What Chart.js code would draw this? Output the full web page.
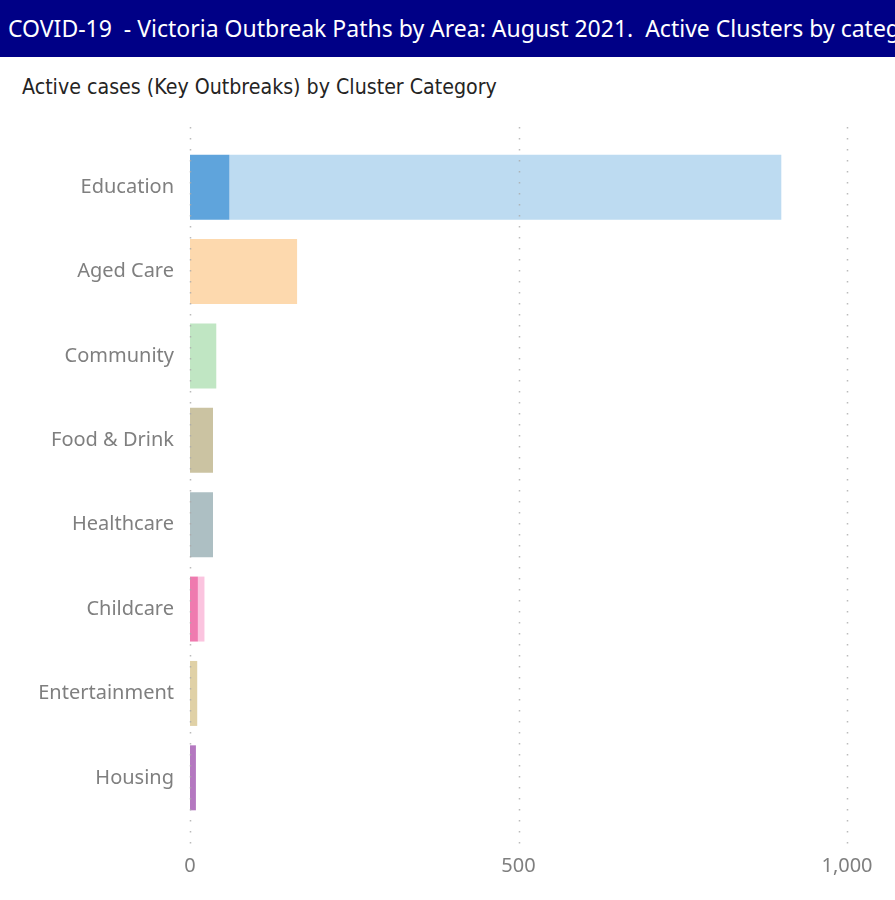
<!DOCTYPE html>
<html>
<head>
<meta charset="utf-8">
<script src="https://cdn.jsdelivr.net/npm/chart.js@4.4.0/dist/chart.umd.min.js"></script>
<style>
  body { margin: 0; background: #fff; width: 895px; height: 900px; overflow: hidden; position: relative; }
  .header {
    position: absolute; left: 0; top: 0; width: 895px; height: 57px;
    background: #000086; color: #fff; white-space: pre; overflow: hidden;
    font-family: 'Noto Sans', sans-serif; font-size: 23px; line-height: 57px;
    padding-left: 8px; box-sizing: border-box;
  }
  .subtitle {
    position: absolute; left: 22px; top: 74px; color: #252423;
    font-family: 'DejaVu Sans Condensed', 'DejaVu Sans', sans-serif; font-size: 21.2px;
  }
  .wrap { position: absolute; left: 0; top: 110px; width: 895px; height: 790px; }
</style>
</head>
<body>
<div class="header">COVID-19  - Victoria Outbreak Paths by Area: August 2021.  Active Clusters by category</div>
<div class="subtitle">Active cases (Key Outbreaks) by Cluster Category</div>
<div class="wrap"><canvas id="chart"></canvas></div>
<script>
document.addEventListener('DOMContentLoaded', () => {
    // --- Data ---
    const categories = ['Education', 'Aged Care', 'Community', 'Food & Drink', 'Healthcare', 'Childcare', 'Entertainment', 'Housing'];
    const darkValues = [60, 0, 0, 0, 0, 12, 0, 9];
    const lightValues = [840, 163, 40, 35, 35, 10, 11, 0];
    const xTicks = [0, 500, 1000];

    const darkColors = ['#5fa4dc', '#f9c48a', '#8fd197', '#a89c70', '#879ea3', '#ef7aaf', '#c9b67a', '#b478c0'];
    const lightColors = ['#bddbf1', '#fdd9ae', '#c0e6c3', '#cbc3a2', '#adbfc3', '#fbc4df', '#e0d1a6', '#d6b4dd'];

    // dotted gridlines that run past the plot area like the original
    const dottedGrid = {
        id: 'dottedGrid',
        afterDatasetsDraw(chart) {
            const { ctx, chartArea, scales } = chart;
            ctx.save();
            ctx.strokeStyle = 'rgba(170,170,170,0.8)';
            ctx.lineWidth = 1.5;
            ctx.setLineDash([1.5, 9.5]);
            xTicks.forEach(t => {
                const x = Math.round(scales.x.getPixelForValue(t)) + 0.5;
                ctx.beginPath();
                ctx.moveTo(x, chartArea.top - 18);
                ctx.lineTo(x, chartArea.bottom + 25);
                ctx.stroke();
            });
            ctx.restore();
        }
    };

    const ctx = document.getElementById('chart').getContext('2d');
    new Chart(ctx, {
        type: 'bar',
        data: {
            labels: categories,
            datasets: [
                { label: 'dark', data: darkValues, backgroundColor: darkColors, borderWidth: 0 },
                { label: 'light', data: lightValues, backgroundColor: lightColors, borderWidth: 0 }
            ]
        },
        options: {
            indexAxis: 'y',
            responsive: true,
            maintainAspectRatio: false,
            animation: false,
            layout: { padding: { top: 35, right: 48, left: 0, bottom: 0 } },
            datasets: { bar: { barPercentage: 0.77, categoryPercentage: 1 } },
            plugins: {
                legend: { display: false },
                tooltip: { enabled: false }
            },
            scales: {
                x: {
                    stacked: true,
                    min: 0,
                    max: 1000,
                    afterBuildTicks: scale => { scale.ticks = xTicks.map(v => ({ value: v })); },
                    afterFit: scale => {
                        scale.height = 80;
                        scale.paddingLeft = 0;
                        scale.paddingRight = 0;
                    },
                    border: { display: false },
                    grid: { display: false, drawTicks: false },
                    ticks: {
                        padding: 34,
                        color: '#7f7f7f',
                        font: { family: "'Noto Sans', sans-serif", size: 20 },
                        callback: v => v.toLocaleString('en-US')
                    }
                },
                y: {
                    stacked: true,
                    afterFit: scale => { scale.width = 190; },
                    border: { display: false },
                    grid: { display: false, drawTicks: false },
                    ticks: {
                        padding: 16,
                        color: '#7f7f7f',
                        font: { family: "'Noto Sans', sans-serif", size: 20 }
                    }
                }
            }
        },
        plugins: [dottedGrid]
    });
});
</script>
</body>
</html>
